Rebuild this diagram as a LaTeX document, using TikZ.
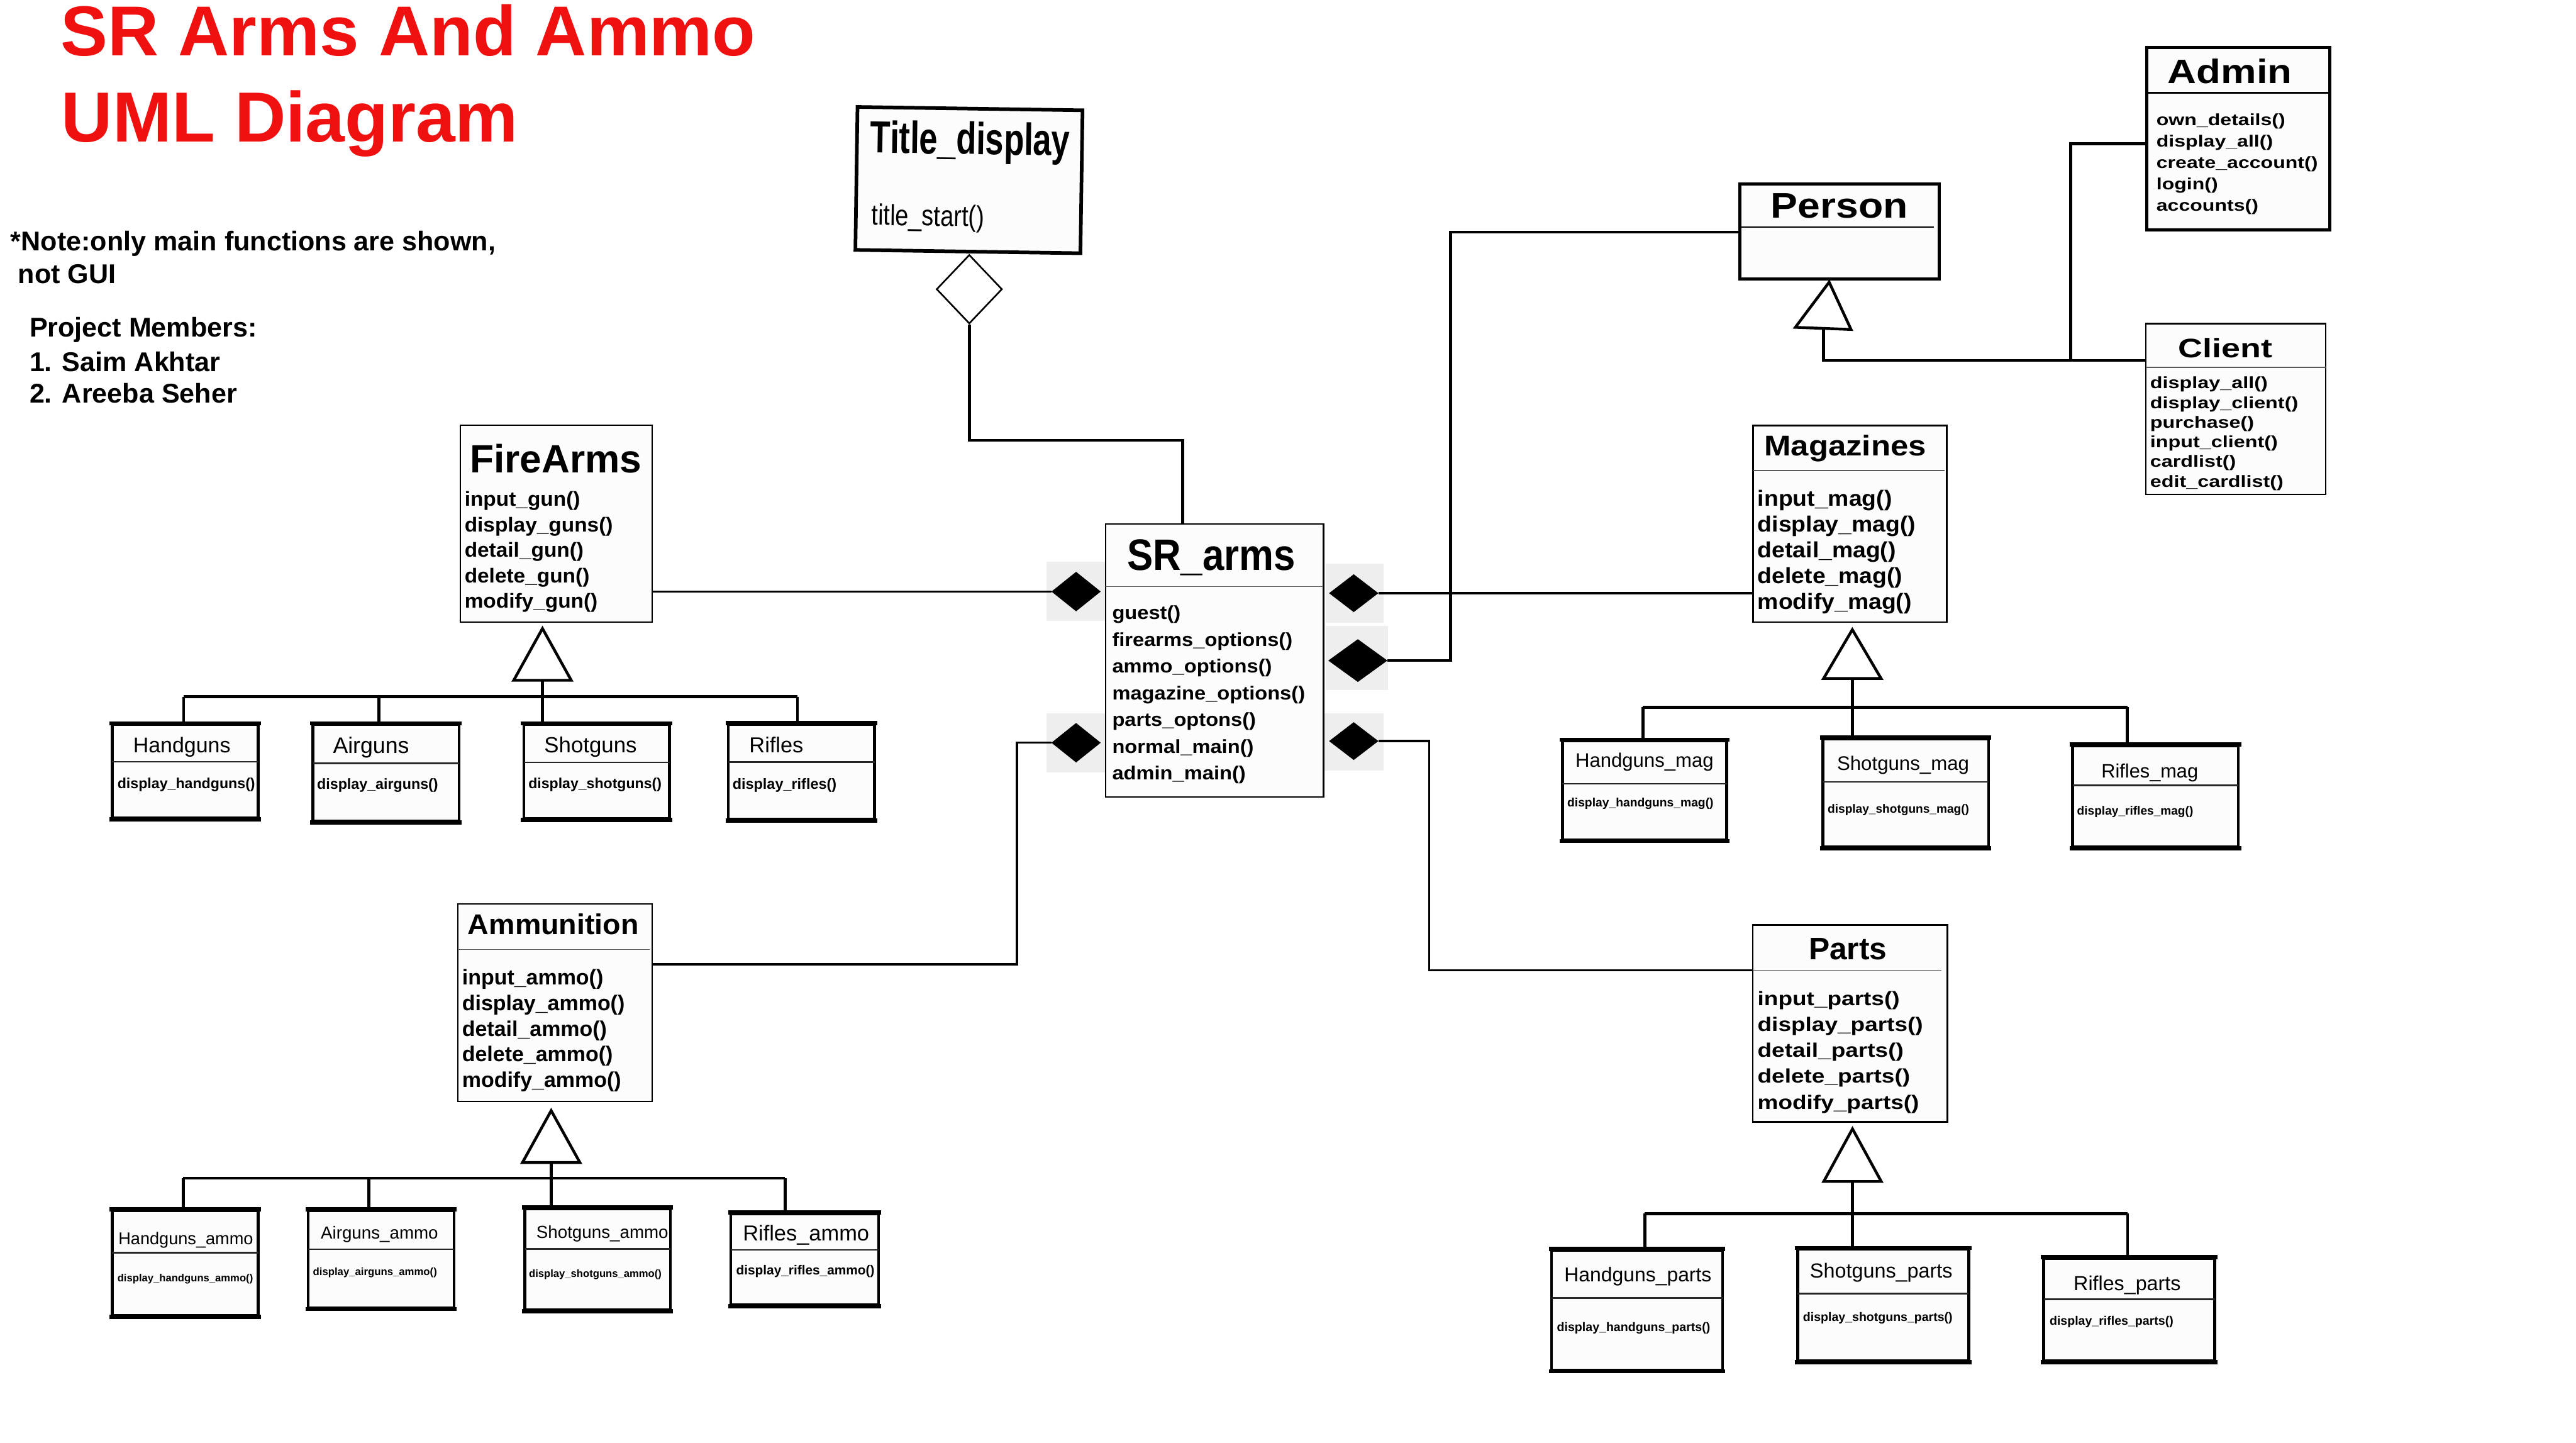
\documentclass[tikz,border=0pt]{standalone}
\usepackage{fontspec}
\usepackage{graphicx}
\setmainfont{Liberation Sans}
\usetikzlibrary{shapes.geometric,fit}
\definecolor{titlered}{RGB}{240,16,16}
\definecolor{boxfill}{RGB}{252,252,252}
\definecolor{lightsq}{RGB}{238,238,238}

\newcommand\tw[2]{\resizebox{#1pt}{!}{#2}}
\newcommand\twh[3]{\resizebox{#1pt}{#2pt}{#3}}

\newcommand\mlist[7]{%
  \foreach \mm [count=\ii from 0] in {#7} {
    \node[txt, font=\fontsize{#5}{#5}\selectfont\bfseries] (#1-\ii) at (#2, #3+#4*\ii) {\scalebox{#6}[1]{\mm}};
  }}

\newcommand\subcls[6]{%
  \node[subbox, fit={(#2,#3) (#4,#5)}] (#1) {};
  \draw[subsep] (#2,#6) -- (#4,#6);
  \draw[subband] ([xshift=-0.8pt]#1.north west) -- ([xshift=0.8pt]#1.north east);
  \draw[subband] ([xshift=-0.8pt]#1.south west) -- ([xshift=0.8pt]#1.south east);}

\newcommand\subtext[9]{%
  \node[txt] (#1-t) at (#2,#3) {\tw{#4}{#5}};
  \node[txt, font=\bfseries] (#1-m) at (#6,#7) {\tw{#8}{#9}};}

\begin{document}
\begin{tikzpicture}[x=1pt,y=-1pt,
  txt/.style={inner sep=0pt, outer sep=0pt, anchor=base west},
  note/.style={txt, font=\fontsize{16.5}{18}\selectfont\bfseries},
  mainbox/.style={draw=black, line width=0.9pt, fill=boxfill, inner sep=0pt},
  heavybox/.style={draw=black, line width=1.9pt, fill=boxfill, inner sep=0pt},
  subbox/.style={draw=black, line width=1.7pt, fill=boxfill, inner sep=0pt},
  subband/.style={draw=black, line width=2.6pt},
  sepline/.style={draw=black!65, line width=0.6pt},
  subsep/.style={draw=black!85, line width=0.9pt},
  link/.style={draw=black, line width=1.3pt},
  link2/.style={draw=black, line width=1.8pt},
  gen/.style={draw=black, line width=1.8pt},
  tri/.style={draw=black, line width=1.7pt, fill=white, line join=miter},
  comp/.style={diamond, fill=black, inner sep=0pt, outer sep=0pt},
  graysq/.style={fill=lightsq},
]
\useasboundingbox (0,0) rectangle (1568,878);
\fill[white] (0,0) rectangle (1568,878);

% ---------- heading and notes
\node[txt, text=titlered, font=\bfseries] (head1) at (37,33.8) {\tw{423}{SR Arms And Ammo}};
\node[txt, text=titlered, font=\bfseries] (head2) at (37.5,86.4) {\tw{278}{UML Diagram}};
\node[note] (note1) at (6.5,152.5) {*Note:only main functions are shown,};
\node[note] (note2) at (11,172.5) {not GUI};
\node[note] (pm) at (18,205) {Project Members:};
\node[note] (pm1) at (18,225.9) {1. Saim Akhtar};
\node[note] (pm2) at (18,245) {2. Areeba Seher};

% ---------- gray squares behind composition diamonds
\fill[graysq] (637,342) rectangle (673,378);
\fill[graysq] (637,434) rectangle (673,470);
\fill[graysq] (807,343) rectangle (842,379);
\fill[graysq] (807,381) rectangle (845,420);
\fill[graysq] (806,434) rectangle (842,469);

% ---------- main class boxes
\node[mainbox, fit={(673,319) (805.6,485)}] (sr) {};
\node[mainbox, fit={(280.1,258.7) (396.9,378.7)}] (fa) {};
\node[mainbox, fit={(278.7,550.1) (396.9,670.3)}] (amm) {};
\node[mainbox, fit={(1067.1,259) (1185,378.7)}] (mag) {};
\node[mainbox, fit={(1067,562.9) (1185.3,682.8)}] (prt) {};
\node[heavybox, fit={(1059.2,112) (1180.3,169.7)}] (per) {};
\node[heavybox, fit={(1306.7,28.9) (1418.2,139.8)}] (adm) {};
\node[mainbox, fit={(1306.1,197) (1415.5,301)}] (cli) {};
\node[draw, line width=2.2pt, fill=boxfill, minimum width=137pt, minimum height=87pt, inner sep=0pt, rotate=-0.85] (td) at (589.8,109.6) {};

% separators
\draw[sepline] (673,357) -- (805.6,357);
\draw[sepline] (278.7,577.8) -- (395.5,577.8);
\draw[sepline] (1067.1,286.3) -- (1183.5,286.3);
\draw[sepline] (1067,590.4) -- (1181.6,590.4);
\draw[sepline, draw=black, line width=0.9pt] (1059.8,138.2) -- (1177,138.2);
\draw[sepline, draw=black, line width=0.9pt] (1306.7,56.4) -- (1418.2,56.4);
\draw[sepline] (1306.1,223.5) -- (1415.5,223.5);

% ---------- sub class boxes
\subcls{hg}{68.3}{441.1}{157.2}{497.9}{463.6}
\subcls{ag}{190.5}{441.1}{279.5}{499.7}{464.5}
\subcls{sg}{318.8}{441.1}{407.5}{498.1}{464}
\subcls{rf}{443.3}{440.8}{532.3}{498.5}{463.8}

\subcls{hga}{68.3}{736.9}{157.2}{800.7}{762.3}
\subcls{aga}{187.6}{736.9}{276.3}{795.8}{760.3}
\subcls{sga}{319.5}{735.7}{408.1}{797.2}{760.1}
\subcls{rfa}{444.9}{738.7}{534.8}{793.9}{760.7}

\subcls{hgm}{951}{451}{1051}{511}{477}
\subcls{sgm}{1109.5}{449.8}{1210.4}{515.5}{475.9}
\subcls{rfm}{1261.6}{453.9}{1362.5}{515.5}{478}

\subcls{hgp}{944.4}{760.9}{1048.5}{833.7}{789.9}
\subcls{sgp}{1094.2}{760.3}{1198.3}{828.1}{787.3}
\subcls{rfp}{1244}{765.9}{1348.1}{828.1}{790.7}

% ---------- composition diamonds
\node[comp, minimum width=30pt, minimum height=24pt] (lt) at (655,360) {};
\node[comp, minimum width=30pt, minimum height=24pt] (lb) at (655,452) {};
\node[comp, minimum width=30pt, minimum height=23pt] (rt) at (824,361) {};
\node[comp, minimum width=36pt, minimum height=26pt] (rm) at (826.5,402) {};
\node[comp, minimum width=30pt, minimum height=23pt] (rb) at (824,451) {};
\node[diamond, draw=black, line width=1pt, fill=white, minimum width=40pt, minimum height=42pt, inner sep=0pt] (od) at (590,176) {};

% ---------- connectors to SR_arms
\coordinate (tk) at (720,268);
\draw[link2] (od.south) |- (tk) -- (tk |- sr.north);
\draw[link] (lt.west) -- (lt.west -| fa.east);
\draw[link] (rt.east) -- (rt.east -| mag.west);
\coordinate (pj) at (883,141.3);
\draw[link2] (rm.east) -| (pj) -- (pj -| per.west);
\coordinate (pk) at (870,590.4);
\draw[link] (rb.east) -| (pk) -- (pk -| prt.west);
\coordinate (pa) at (619,586.8);
\draw[link] (lb.west) -| (pa) -- (pa -| amm.east);

% ---------- Person / Admin / Client
\coordinate (pt-ap) at (1113.4,171.7);
\coordinate (pt-base) at (1109.9,200);
\coordinate (pc) at (1109.9,219.4);
\coordinate (pd) at (1260.5,219.4);
\coordinate (pe) at (1260.5,87.6);
\draw[link2] (pt-base) -- (pc) -- (pc -| cli.west);
\draw[link2] (pd) -- (pe) -- (pe -| adm.west);
\draw[tri] (pt-ap) -- (1092.8,199.2) -- (1126.7,200.5) -- cycle;

% ---------- FireArms hierarchy
\coordinate (fa-ap) at (330.2,382.5);
\coordinate (fa-base) at (330.2,414);
\coordinate (fbL) at (111.8,424);
\coordinate (fbM) at (230.6,424);
\coordinate (fbR) at (485.4,424);
\draw[gen] (fbL) -- (fbR);
\draw[gen] (fbL) -- (fbL |- hg.north);
\draw[gen] (fbM) -- (fbM |- ag.north);
\draw[gen] (fbR) -- (fbR |- rf.north);
\draw[gen] (fa-base) -- (fa-base |- sg.north);
\draw[tri] (fa-ap) -- ([xshift=-17.5pt]fa-base) -- ([xshift=17.5pt]fa-base) -- cycle;

% ---------- Ammunition hierarchy
\coordinate (am-ap) at (335.5,675.9);
\coordinate (am-base) at (335.5,707.5);
\coordinate (abL) at (111.5,717);
\coordinate (abM) at (224.4,717);
\coordinate (abR) at (477.9,717);
\draw[gen] (abL) -- (abR);
\draw[gen] (abL) -- (abL |- hga.north);
\draw[gen] (abM) -- (abM |- aga.north);
\draw[gen] (abR) -- (abR |- rfa.north);
\draw[gen] (am-base) -- (am-base |- sga.north);
\draw[tri] (am-ap) -- ([xshift=-17.5pt]am-base) -- ([xshift=17.5pt]am-base) -- cycle;

% ---------- Magazines hierarchy
\coordinate (mg-ap) at (1127.5,383.2);
\coordinate (mg-base) at (1127.5,412.9);
\coordinate (mbL) at (1000,430.4);
\coordinate (mbR) at (1294.9,430.4);
\draw[gen] (mbL) -- (mbR);
\draw[gen] (mbL) -- (mbL |- hgm.north);
\draw[gen] (mbR) -- (mbR |- rfm.north);
\draw[gen] (mg-base) -- (mg-base |- sgm.north);
\draw[tri] (mg-ap) -- ([xshift=-17.5pt]mg-base) -- ([xshift=17.5pt]mg-base) -- cycle;

% ---------- Parts hierarchy
\coordinate (pr-ap) at (1127.6,687);
\coordinate (pr-base) at (1127.6,719);
\coordinate (pbL) at (1001.2,738.5);
\coordinate (pbR) at (1295,738.5);
\draw[gen] (pbL) -- (pbR);
\draw[gen] (pbL) -- (pbL |- hgp.north);
\draw[gen] (pbR) -- (pbR |- rfp.north);
\draw[gen] (pr-base) -- (pr-base |- sgp.north);
\draw[tri] (pr-ap) -- ([xshift=-17.5pt]pr-base) -- ([xshift=17.5pt]pr-base) -- cycle;

% ---------- texts of main classes
\node[txt, rotate=-0.85, font=\bfseries] (td-t) at (529.8,93) {\twh{121.4}{19.8}{Title\_display}};
\node[txt, rotate=-0.85] (td-m) at (530.4,136.9) {\twh{68.7}{12.9}{title\_start()}};

\node[txt, font=\bfseries] (sr-t) at (686,347) {\twh{102.5}{18.7}{SR\_arms}};
\mlist{srm}{677}{377}{16.25}{11.5}{1.087}{guest(),firearms\_options(),ammo\_options(),magazine\_options(),parts\_optons(),normal\_main(),admin\_main()}

\node[txt, font=\bfseries] (fa-t) at (286,287.7) {\twh{104.5}{17.4}{FireArms}};
\mlist{fam}{282.8}{308}{15.5}{12.3}{1.04}{input\_gun(),display\_guns(),detail\_gun(),delete\_gun(),modify\_gun()}

\node[txt, font=\bfseries] (amm-t) at (284.8,568.8) {\twh{104}{12.6}{Ammunition}};
\mlist{ammm}{281.3}{599.4}{15.55}{13}{1.0}{input\_ammo(),display\_ammo(),detail\_ammo(),delete\_ammo(),modify\_ammo()}

\node[txt, font=\bfseries] (mag-t) at (1073.9,277.5) {\twh{98.6}{12.6}{Magazines}};
\mlist{magm}{1069.9}{308.1}{15.62}{13.4}{1.067}{input\_mag(),display\_mag(),detail\_mag(),delete\_mag(),modify\_mag()}

\node[txt, font=\bfseries] (prt-t) at (1101,583.9) {\twh{47.6}{13}{Parts}};
\mlist{prtm}{1069.8}{611.9}{15.75}{11.9}{1.19}{input\_parts(),display\_parts(),detail\_parts(),delete\_parts(),modify\_parts()}

\node[txt, font=\bfseries] (per-t) at (1077.9,132.6) {\twh{83.4}{14.9}{Person}};

\node[txt, font=\bfseries] (adm-t) at (1319.5,50.8) {\twh{75.7}{14.9}{Admin}};
\mlist{admm}{1312.6}{76.4}{12.98}{9.9}{1.24}{own\_details(),display\_all(),create\_account(),login(),accounts()}

\node[txt, font=\bfseries] (cli-t) at (1325.9,217.5) {\twh{57.3}{11.8}{Client}};
\mlist{clim}{1308.8}{236.5}{11.96}{9.9}{1.25}{display\_all(),display\_client(),purchase(),input\_client(),cardlist(),edit\_cardlist()}

% ---------- texts of sub classes
\subtext{hg}{81.1}{458.2}{59.2}{Handguns}{71.5}{479.8}{83.8}{display\_handguns()}
\subtext{ag}{202.7}{458.5}{46.3}{Airguns}{193}{480.4}{73.7}{display\_airguns()}
\subtext{sg}{331.3}{458.2}{56.3}{Shotguns}{321.7}{479.8}{81}{display\_shotguns()}
\subtext{rf}{456.1}{458.2}{32.9}{Rifles}{445.9}{480.2}{63.3}{display\_rifles()}

\subtext{hga}{72.1}{757.2}{82}{Handguns\_ammo}{71.5}{779.9}{82.5}{display\_handguns\_ammo()}
\subtext{aga}{195.3}{753.9}{71.4}{Airguns\_ammo}{190.5}{776.3}{75.5}{display\_airguns\_ammo()}
\subtext{sga}{326.5}{753.5}{80.3}{Shotguns\_ammo}{322}{777.1}{80.7}{display\_shotguns\_ammo()}
\subtext{rfa}{452.2}{755.1}{76.9}{Rifles\_ammo}{448.1}{775.9}{84.2}{display\_rifles\_ammo()}

\subtext{hgm}{959}{467}{84}{Handguns\_mag}{954}{491}{89}{display\_handguns\_mag()}
\subtext{sgm}{1118.2}{468.7}{80.4}{Shotguns\_mag}{1112.5}{494.8}{86.1}{display\_shotguns\_mag()}
\subtext{rfm}{1279.1}{473.2}{58.9}{Rifles\_mag}{1264.3}{496.1}{70.7}{display\_rifles\_mag()}

\subtext{hgp}{952.2}{780.1}{89.6}{Handguns\_parts}{947.7}{810.1}{93.3}{display\_handguns\_parts()}
\subtext{sgp}{1101.7}{777.7}{86.8}{Shotguns\_parts}{1097.5}{804.1}{91}{display\_shotguns\_parts()}
\subtext{rfp}{1262.2}{785.3}{65.2}{Rifles\_parts}{1247.6}{806.3}{75.3}{display\_rifles\_parts()}
\end{tikzpicture}
\end{document}
